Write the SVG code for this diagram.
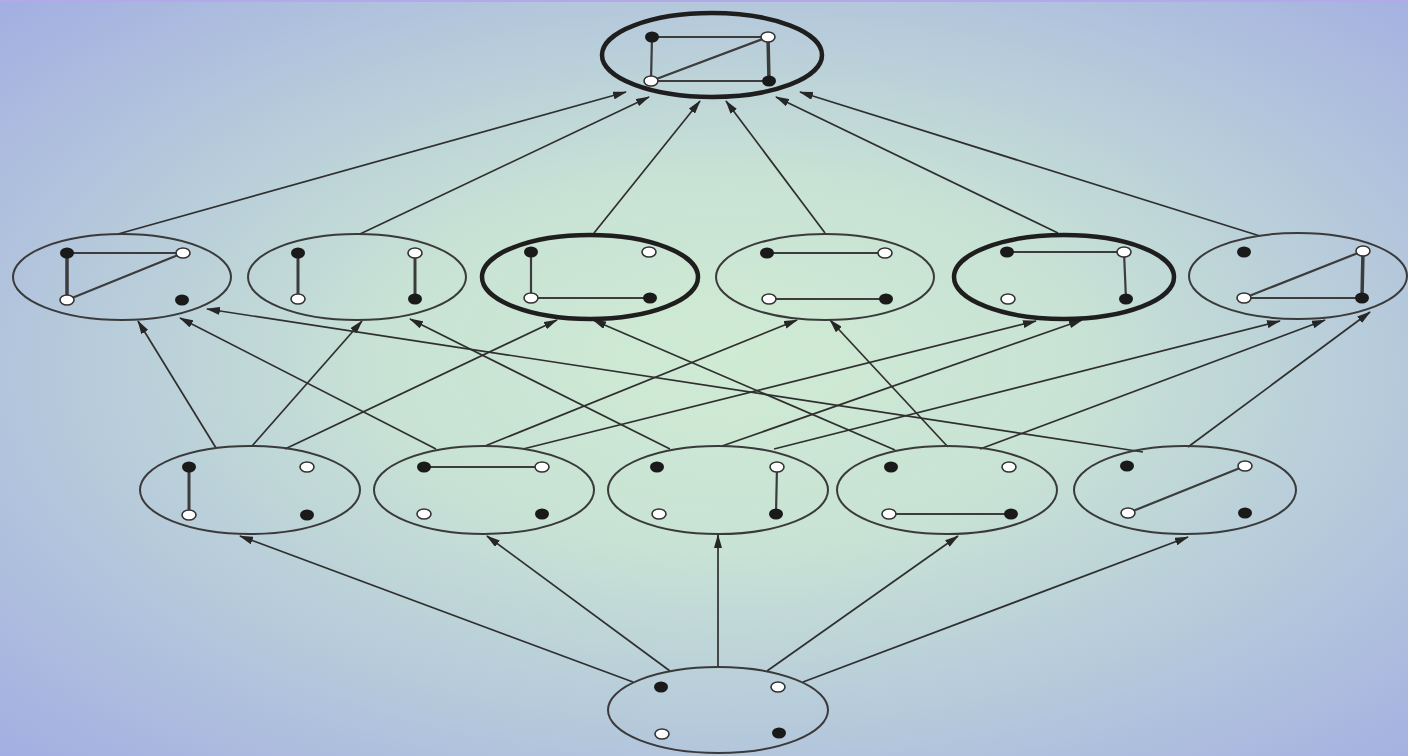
<svg xmlns="http://www.w3.org/2000/svg" width="1408" height="756" viewBox="0 0 1408 756">
<defs>
<radialGradient id="bg" cx="52%" cy="50%" r="72%" fx="52%" fy="47%">
<stop offset="0" stop-color="#d0ebd3"/>
<stop offset="0.35" stop-color="#c8e2d5"/>
<stop offset="0.7" stop-color="#b3c6dc"/>
<stop offset="1" stop-color="#a3aee2"/>
</radialGradient>
<marker id="ah" viewBox="0 0 14 8" refX="13" refY="4" markerWidth="14" markerHeight="8" markerUnits="userSpaceOnUse" orient="auto">
<path d="M0,0 L14,4 L0,8 z" fill="#262626"/>
</marker>
<style>
.n{fill:none;stroke:#3a3a3a;stroke-width:2}
.t{fill:none;stroke:#1e1e1e;stroke-width:4.5}
.e{stroke:#3c3c3c;stroke-width:2.2;fill:none}
.f{fill:#1a1a1a}
.o{fill:#fff;stroke:#333;stroke-width:1.6}
.c{stroke:#2f2f2f;stroke-width:1.7;fill:none;marker-end:url(#ah)}
</style>
</defs>
<rect width="1408" height="756" fill="url(#bg)"/>
<rect width="1408" height="2" fill="#b2a8ea"/>

<g id="connectors">
<line class="c" x1="633" y1="682" x2="240" y2="536"/>
<line class="c" x1="670" y1="671" x2="487" y2="536"/>
<line class="c" x1="718" y1="667" x2="718" y2="535"/>
<line class="c" x1="767" y1="671" x2="958" y2="536"/>
<line class="c" x1="803" y1="682" x2="1188" y2="537"/>

<line class="c" x1="216" y1="448" x2="138" y2="321"/>
<line class="c" x1="252" y1="446" x2="362" y2="321"/>
<line class="c" x1="285" y1="449" x2="557" y2="320"/>
<line class="c" x1="436" y1="449" x2="180" y2="318"/>
<line class="c" x1="485" y1="446" x2="797" y2="320"/>
<line class="c" x1="523" y1="449" x2="1036" y2="321"/>
<line class="c" x1="670" y1="449" x2="410" y2="319"/>
<line class="c" x1="722" y1="446" x2="1082" y2="320"/>
<line class="c" x1="774" y1="449" x2="1280" y2="321"/>
<line class="c" x1="895" y1="450" x2="593" y2="320"/>
<line class="c" x1="948" y1="447" x2="830" y2="320"/>
<line class="c" x1="980" y1="449" x2="1325" y2="320"/>
<line class="c" x1="1143" y1="452" x2="207" y2="309"/>
<line class="c" x1="1188" y1="447" x2="1370" y2="312"/>

<line class="c" x1="118" y1="234" x2="626" y2="92"/>
<line class="c" x1="360" y1="234" x2="649" y2="97"/>
<line class="c" x1="594" y1="233" x2="700" y2="101"/>
<line class="c" x1="825" y1="233" x2="726" y2="101"/>
<line class="c" x1="1058" y1="233" x2="776" y2="97"/>
<line class="c" x1="1260" y1="236" x2="800" y2="92"/>
</g>

<g id="top">
<ellipse class="t" cx="712" cy="55" rx="110" ry="42"/>
<line class="e" x1="652" y1="37" x2="768" y2="37"/>
<line class="e" x1="652" y1="37" x2="651" y2="81"/>
<line class="e" x1="651" y1="81" x2="769" y2="81"/>
<line class="e" x1="768" y1="37" x2="769" y2="81" style="stroke-width:3.5"/>
<line class="e" x1="651" y1="81" x2="768" y2="37"/>
<ellipse class="f" cx="652" cy="37" rx="7" ry="5.5"/>
<ellipse class="o" cx="768" cy="37" rx="7" ry="5"/>
<ellipse class="o" cx="651" cy="81" rx="7" ry="5"/>
<ellipse class="f" cx="769" cy="81" rx="7" ry="5.5"/>
</g>

<g id="r2-1">
<ellipse class="n" cx="122" cy="277" rx="109" ry="43"/>
<line class="e" x1="67" y1="253" x2="183" y2="253"/>
<line class="e" x1="67" y1="253" x2="67" y2="300" style="stroke-width:3.5"/>
<line class="e" x1="67" y1="300" x2="183" y2="253"/>
<ellipse class="f" cx="67" cy="253" rx="7" ry="5.5"/>
<ellipse class="o" cx="183" cy="253" rx="7" ry="5"/>
<ellipse class="o" cx="67" cy="300" rx="7" ry="5"/>
<ellipse class="f" cx="182" cy="300" rx="7" ry="5.5"/>
</g>

<g id="r2-2">
<ellipse class="n" cx="357" cy="277" rx="109" ry="43"/>
<line class="e" x1="298" y1="253" x2="298" y2="299" style="stroke-width:3"/>
<line class="e" x1="415" y1="253" x2="415" y2="299" style="stroke-width:3"/>
<ellipse class="f" cx="298" cy="253" rx="7" ry="5.5"/>
<ellipse class="o" cx="415" cy="253" rx="7" ry="5"/>
<ellipse class="o" cx="298" cy="299" rx="7" ry="5"/>
<ellipse class="f" cx="415" cy="299" rx="7" ry="5.5"/>
</g>

<g id="r2-3">
<ellipse class="t" cx="590" cy="277" rx="108" ry="42"/>
<line class="e" x1="531" y1="252" x2="531" y2="298"/>
<line class="e" x1="531" y1="298" x2="650" y2="298"/>
<ellipse class="f" cx="531" cy="252" rx="7" ry="5.5"/>
<ellipse class="o" cx="649" cy="252" rx="7" ry="5"/>
<ellipse class="o" cx="531" cy="298" rx="7" ry="5"/>
<ellipse class="f" cx="650" cy="298" rx="7" ry="5.5"/>
</g>

<g id="r2-4">
<ellipse class="n" cx="825" cy="277" rx="109" ry="43"/>
<line class="e" x1="767" y1="253" x2="885" y2="253"/>
<line class="e" x1="769" y1="299" x2="886" y2="299"/>
<ellipse class="f" cx="767" cy="253" rx="7" ry="5.5"/>
<ellipse class="o" cx="885" cy="253" rx="7" ry="5"/>
<ellipse class="o" cx="769" cy="299" rx="7" ry="5"/>
<ellipse class="f" cx="886" cy="299" rx="7" ry="5.5"/>
</g>

<g id="r2-5">
<ellipse class="t" cx="1064" cy="277" rx="110" ry="42"/>
<line class="e" x1="1007" y1="252" x2="1124" y2="252"/>
<line class="e" x1="1124" y1="252" x2="1126" y2="299"/>
<ellipse class="f" cx="1007" cy="252" rx="7" ry="5.5"/>
<ellipse class="o" cx="1124" cy="252" rx="7" ry="5"/>
<ellipse class="o" cx="1008" cy="299" rx="7" ry="5"/>
<ellipse class="f" cx="1126" cy="299" rx="7" ry="5.5"/>
</g>

<g id="r2-6">
<ellipse class="n" cx="1298" cy="276" rx="109" ry="43"/>
<line class="e" x1="1363" y1="251" x2="1362" y2="298" style="stroke-width:3.5"/>
<line class="e" x1="1244" y1="298" x2="1362" y2="298"/>
<line class="e" x1="1244" y1="298" x2="1363" y2="251"/>
<ellipse class="f" cx="1244" cy="252" rx="7" ry="5.5"/>
<ellipse class="o" cx="1363" cy="251" rx="7" ry="5"/>
<ellipse class="o" cx="1244" cy="298" rx="7" ry="5"/>
<ellipse class="f" cx="1362" cy="298" rx="7" ry="5.5"/>
</g>

<g id="r3-1">
<ellipse class="n" cx="250" cy="490" rx="110" ry="44"/>
<line class="e" x1="189" y1="467" x2="189" y2="515" style="stroke-width:3"/>
<ellipse class="f" cx="189" cy="467" rx="7" ry="5.5"/>
<ellipse class="o" cx="307" cy="467" rx="7" ry="5"/>
<ellipse class="o" cx="189" cy="515" rx="7" ry="5"/>
<ellipse class="f" cx="307" cy="515" rx="7" ry="5.5"/>
</g>

<g id="r3-2">
<ellipse class="n" cx="484" cy="490" rx="110" ry="44"/>
<line class="e" x1="424" y1="467" x2="542" y2="467"/>
<ellipse class="f" cx="424" cy="467" rx="7" ry="5.5"/>
<ellipse class="o" cx="542" cy="467" rx="7" ry="5"/>
<ellipse class="o" cx="424" cy="514" rx="7" ry="5"/>
<ellipse class="f" cx="542" cy="514" rx="7" ry="5.5"/>
</g>

<g id="r3-3">
<ellipse class="n" cx="718" cy="490" rx="110" ry="44"/>
<line class="e" x1="777" y1="467" x2="776" y2="514"/>
<ellipse class="f" cx="657" cy="467" rx="7" ry="5.5"/>
<ellipse class="o" cx="777" cy="467" rx="7" ry="5"/>
<ellipse class="o" cx="659" cy="514" rx="7" ry="5"/>
<ellipse class="f" cx="776" cy="514" rx="7" ry="5.5"/>
</g>

<g id="r3-4">
<ellipse class="n" cx="947" cy="490" rx="110" ry="44"/>
<line class="e" x1="889" y1="514" x2="1011" y2="514"/>
<ellipse class="f" cx="891" cy="467" rx="7" ry="5.5"/>
<ellipse class="o" cx="1009" cy="467" rx="7" ry="5"/>
<ellipse class="o" cx="889" cy="514" rx="7" ry="5"/>
<ellipse class="f" cx="1011" cy="514" rx="7" ry="5.5"/>
</g>

<g id="r3-5">
<ellipse class="n" cx="1185" cy="490" rx="111" ry="44"/>
<line class="e" x1="1128" y1="513" x2="1245" y2="466"/>
<ellipse class="f" cx="1127" cy="466" rx="7" ry="5.5"/>
<ellipse class="o" cx="1245" cy="466" rx="7" ry="5"/>
<ellipse class="o" cx="1128" cy="513" rx="7" ry="5"/>
<ellipse class="f" cx="1245" cy="513" rx="7" ry="5.5"/>
</g>

<g id="bottom">
<ellipse class="n" cx="718" cy="710" rx="110" ry="43"/>
<ellipse class="f" cx="661" cy="687" rx="7" ry="5.5"/>
<ellipse class="o" cx="778" cy="687" rx="7" ry="5"/>
<ellipse class="o" cx="662" cy="734" rx="7" ry="5"/>
<ellipse class="f" cx="779" cy="733" rx="7" ry="5.5"/>
</g>
</svg>
